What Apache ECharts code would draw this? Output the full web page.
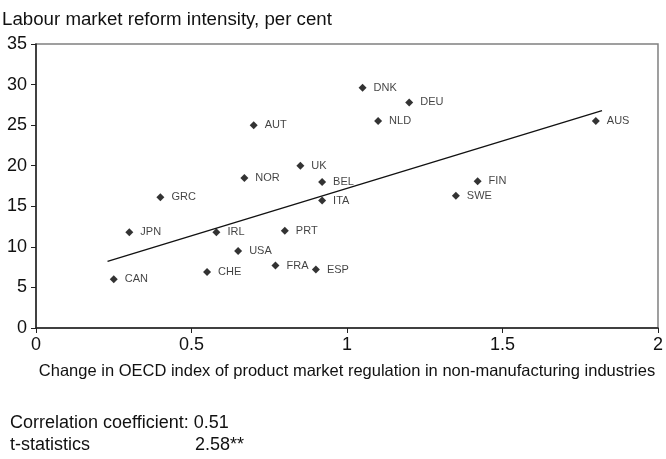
<!DOCTYPE html>
<html>
<head>
<meta charset="utf-8">
<script src="https://cdn.jsdelivr.net/npm/echarts@6/dist/echarts.min.js"></script>
<style>
html,body{margin:0;padding:0;background:#fff;}
#chart{width:666px;height:459px;}
</style>
</head>
<body>
<div id="chart"></div>
<script>
const countries = ['CAN','JPN','GRC','IRL','CHE','USA','FRA','ESP','PRT','ITA','BEL','NOR','AUT','UK','DNK','DEU','NLD','AUS','FIN','SWE'];
const pmrChange = [0.25,0.30,0.40,0.58,0.55,0.65,0.77,0.90,0.80,0.92,0.92,0.67,0.70,0.85,1.05,1.20,1.10,1.80,1.42,1.35];
const reformIntensity = [6.0,11.8,16.1,11.8,6.9,9.5,7.7,7.2,12.0,15.7,18.0,18.5,25.0,20.0,29.6,27.8,25.5,25.5,18.1,16.3];
const trendX = [0.23, 1.82];
const trendY = [8.2, 26.8];
const xTicks = [0, 0.5, 1, 1.5, 2];
const yTicks = [0, 5, 10, 15, 20, 25, 30, 35];

const FONT = "'Liberation Sans', Arial, sans-serif";
const INK = '#111';
const chart = echarts.init(document.getElementById('chart'));

const points = countries.map((c, i) => ({ name: c, value: [pmrChange[i], reformIntensity[i]] }));
const trend = trendX.map((x, i) => [x, trendY[i]]);

chart.setOption({
  animation: false,
  backgroundColor: '#fff',
  title: {
    text: 'Labour market reform intensity, per cent',
    left: -3, top: 5,
    textStyle: { fontFamily: FONT, fontSize: 18.7, fontWeight: 'normal', color: INK }
  },
  grid: {
    left: 36, right: 5, top: 44, bottom: 131,
    show: true, borderColor: '#808080', borderWidth: 1.5, backgroundColor: 'transparent'
  },
  xAxis: {
    type: 'value', min: xTicks[0], max: xTicks[xTicks.length - 1], interval: 0.5,
    name: 'Change in OECD index of product market regulation in non-manufacturing industries',
    nameLocation: 'middle', nameGap: 35,
    nameTextStyle: { fontFamily: FONT, fontSize: 16.5, color: INK },
    splitLine: { show: false },
    axisLine: { lineStyle: { color: '#222', width: 1.5 } },
    axisTick: { show: true, length: 5, lineStyle: { color: '#222' } },
    axisLabel: { fontFamily: FONT, fontSize: 18, color: INK, margin: 8 }
  },
  yAxis: {
    type: 'value', min: yTicks[0], max: yTicks[yTicks.length - 1], interval: 5,
    splitLine: { show: false },
    axisLine: { show: true, lineStyle: { color: '#222', width: 1.5 } },
    axisTick: { show: true, length: 5, lineStyle: { color: '#222' } },
    axisLabel: { fontFamily: FONT, fontSize: 18, color: INK, margin: 9 }
  },
  series: [
    {
      type: 'line', data: trend, showSymbol: false, symbol: 'none',
      lineStyle: { color: '#111', width: 1.3 }, z: 2, silent: true
    },
    {
      type: 'scatter', data: points, symbol: 'diamond', symbolSize: 8,
      itemStyle: { color: '#000' },
      label: {
        show: true, position: 'right', distance: 7,
        formatter: p => p.name,
        fontFamily: FONT, fontSize: 11, color: INK
      },
      z: 3
    }
  ],
  graphic: [
    { type: 'text', left: 10, top: 414, style: { text: 'Correlation coefficient: 0.51', font: '18px ' + FONT, fill: INK } },
    { type: 'text', left: 10, top: 436, style: { text: 't-statistics', font: '18px ' + FONT, fill: INK } },
    { type: 'text', left: 195, top: 436, style: { text: '2.58**', font: '18px ' + FONT, fill: INK } }
  ]
});
</script>
</body>
</html>
